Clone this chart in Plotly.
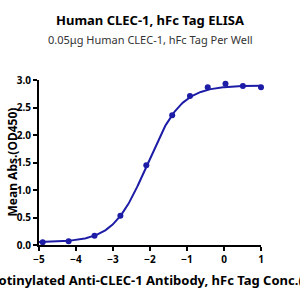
import numpy as np
import plotly.graph_objects as go

# Data (log10 concentration, mean OD450)
log_conc = [-4.9, -4.2, -3.5, -2.8, -2.1, -1.4, -0.92, -0.44, 0.04, 0.51, 1.0]
od450 = [0.05, 0.07, 0.17, 0.53, 1.45, 2.36, 2.71, 2.87, 2.93, 2.89, 2.87]

# Four-parameter logistic fit parameters (estimated from the drawn curve)
fit_bottom = 0.05
fit_top = 2.90
fit_log_ec50 = -2.07
fit_hill = 0.95

x_ticks = [-5, -4, -3, -2, -1, 0, 1]
y_ticks = [0.0, 0.5, 1.0, 1.5, 2.0, 2.5, 3.0]

title = "Human CLEC-1, hFc Tag ELISA"
subtitle = "0.05μg Human CLEC-1, hFc Tag Per Well"
x_title = "Biotinylated Anti-CLEC-1 Antibody, hFc Tag Conc.(μg/ml)"
y_title = "Mean Abs.(OD450)"

color = "#1c1ca6"
font = "Noto Sans"

xs = np.linspace(-5, 1, 200)
ys = fit_bottom + (fit_top - fit_bottom) / (1 + 10 ** ((fit_log_ec50 - xs) * fit_hill))

fig = go.Figure()
fig.add_trace(go.Scatter(x=xs, y=ys, mode="lines",
                         line=dict(color=color, width=2), hoverinfo="skip",
                         cliponaxis=False))
fig.add_trace(go.Scatter(x=log_conc, y=od450, mode="markers",
                         marker=dict(color=color, size=6), cliponaxis=False))

axis_common = dict(showline=True, linecolor="black", linewidth=2,
                   ticks="outside", tickcolor="black", tickwidth=2, ticklen=4,
                   showgrid=False, zeroline=False,
                   tickfont=dict(family=font, size=10, color="black", weight="bold"))

fig.update_layout(
    width=300, height=300,
    margin=dict(l=39, r=39, t=80, b=55),
    paper_bgcolor="white", plot_bgcolor="white",
    showlegend=False,
    font=dict(family=font, color="black"),
    xaxis=dict(range=[-5, 1], tickvals=x_ticks, **axis_common),
    yaxis=dict(range=[0, 3], tickvals=y_ticks, tickformat=".1f", **axis_common),
)
fig.add_annotation(text=f"<b>{title}</b>", xref="paper", yref="paper", x=0.5, y=1,
                   yshift=60, showarrow=False, yanchor="middle",
                   font=dict(family=font, size=13, color="black"))
fig.add_annotation(text=subtitle, xref="paper", yref="paper", x=0.5, y=1,
                   yshift=41, showarrow=False, yanchor="middle",
                   font=dict(family=font, size=11, color="#333333"))
fig.add_annotation(text=f"<b>{x_title}</b>", xref="paper", yref="paper", x=0.5, y=0,
                   yshift=-35, xshift=16, showarrow=False, yanchor="middle",
                   font=dict(family=font, size=13, color="black"))
fig.add_annotation(text=f"<b>{y_title}</b>", xref="paper", yref="paper", x=0, y=0.5,
                   xshift=-27, showarrow=False, textangle=-90, xanchor="center",
                   font=dict(family=font, size=12, color="black"))

fig.write_html("out.html")
